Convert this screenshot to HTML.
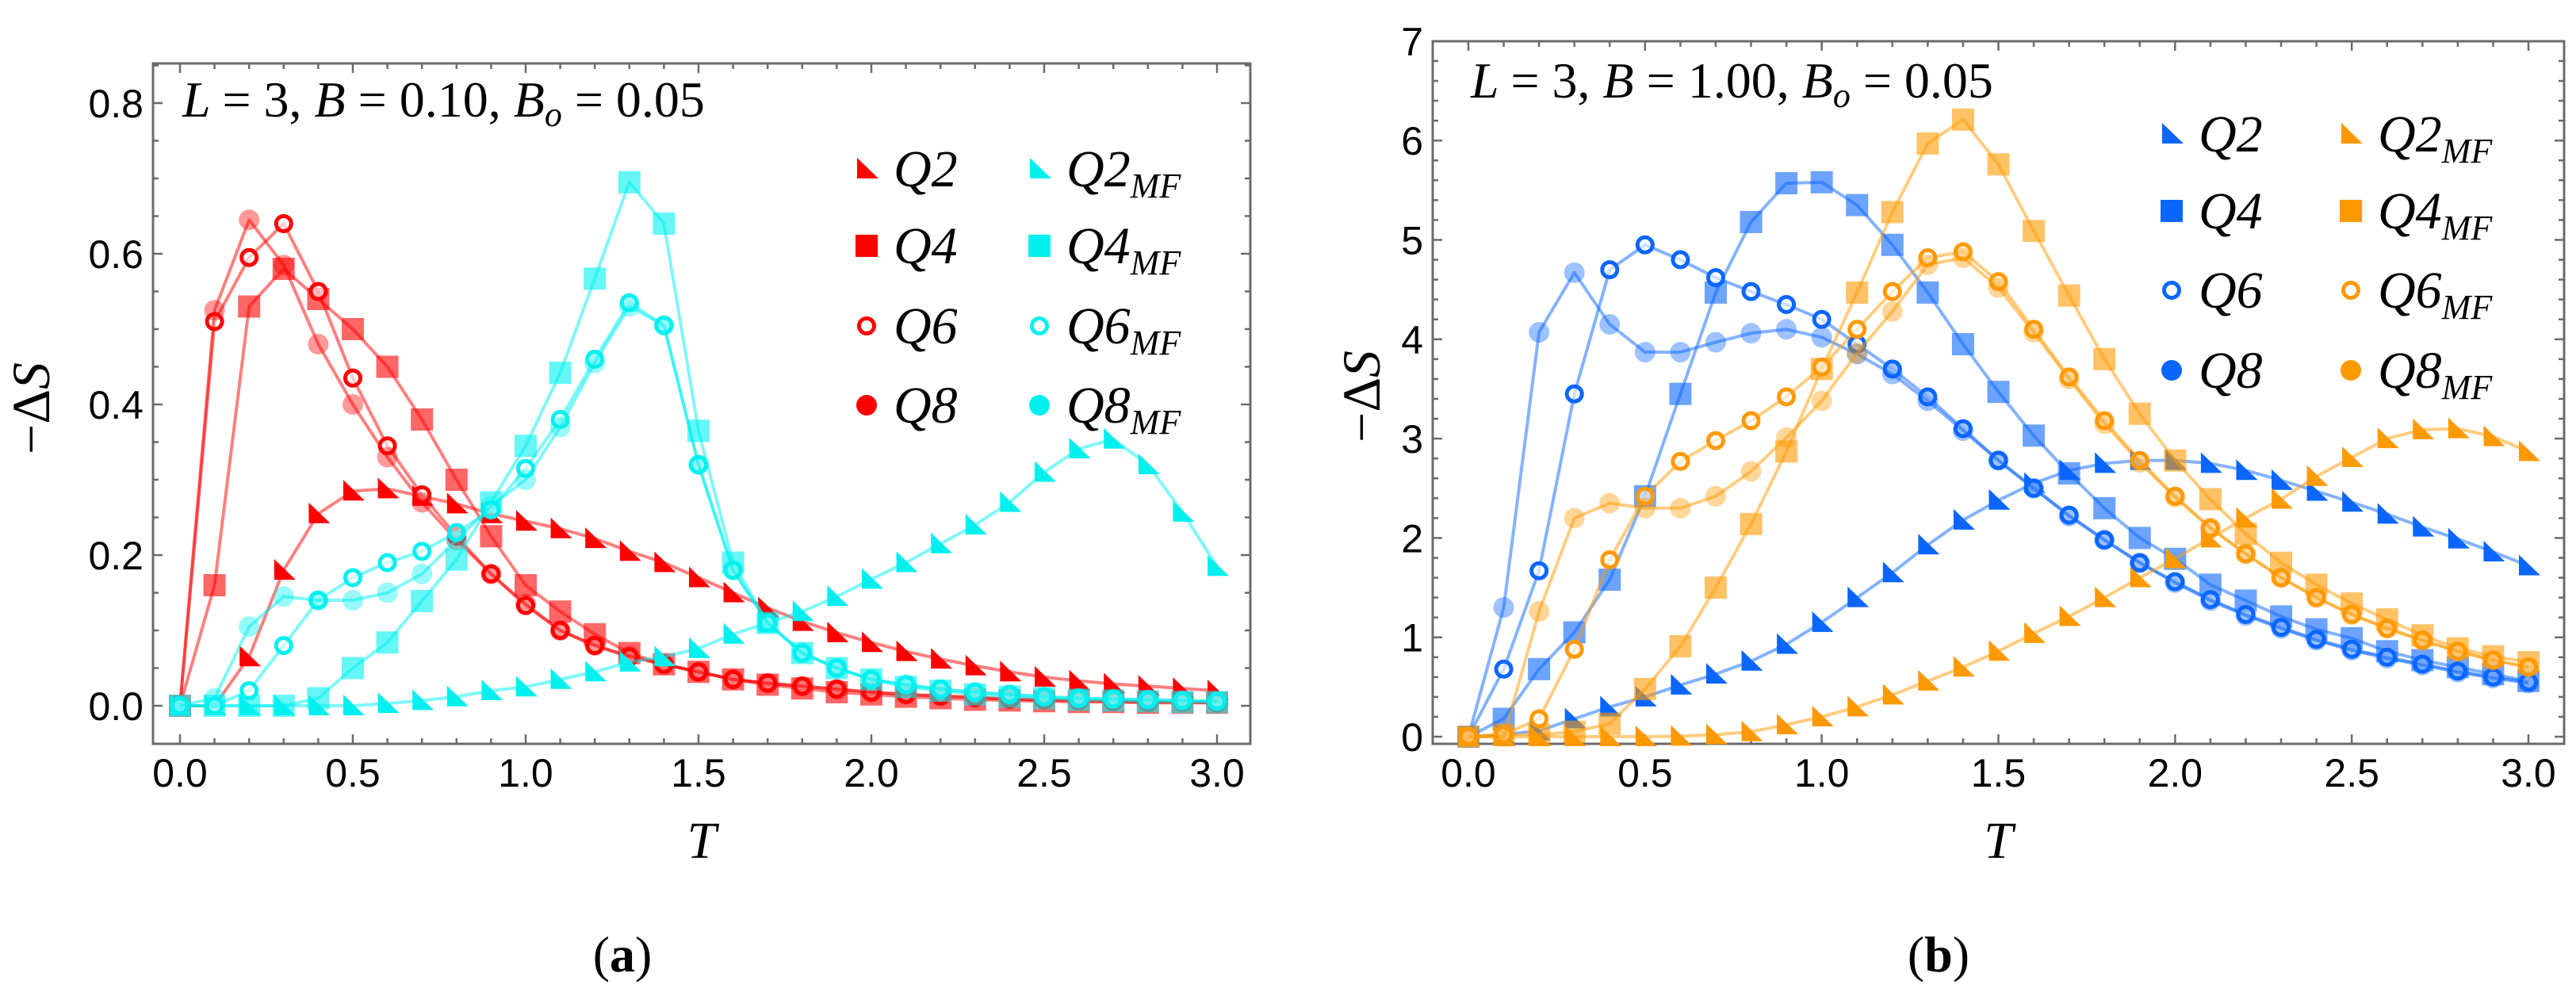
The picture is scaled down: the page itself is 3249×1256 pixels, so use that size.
<!DOCTYPE html>
<html><head><meta charset="utf-8"><style>
body{margin:0;background:#fff;}
svg{display:block;}
</style></head><body>
<svg id="fig" width="3249" height="1256" viewBox="0 0 3249 1256" xmlns="http://www.w3.org/2000/svg" style="font-family:'Liberation Sans',sans-serif"></svg>
<script>
const T = [];
for (let i = 0; i <= 30; i++) T.push(+(i / 10).toFixed(1));
const xTicks = ["0.0","0.5","1.0","1.5","2.0","2.5","3.0"];
const yTicksA = ["0.0","0.2","0.4","0.6","0.8"];
const yTicksB = ["0","1","2","3","4","5","6","7"];
// Panel (a)
const aQ2 = [0,0,0.065,0.18,0.255,0.285,0.288,0.278,0.268,0.255,0.245,0.235,0.222,0.205,0.19,0.17,0.15,0.13,0.112,0.097,0.084,0.072,0.062,0.053,0.045,0.038,0.033,0.029,0.026,0.023,0.02];
const aQ4 = [0,0.16,0.53,0.58,0.54,0.5,0.45,0.38,0.3,0.225,0.16,0.125,0.095,0.07,0.055,0.045,0.035,0.028,0.023,0.018,0.015,0.012,0.01,0.008,0.007,0.006,0.005,0.005,0.004,0.004,0.004];
const aQ6 = [0,0.51,0.595,0.64,0.55,0.435,0.345,0.28,0.225,0.175,0.133,0.1,0.08,0.065,0.055,0.045,0.035,0.03,0.026,0.022,0.018,0.015,0.013,0.011,0.009,0.008,0.007,0.006,0.005,0.005,0.004];
const aQ8 = [0,0.525,0.645,0.585,0.48,0.4,0.33,0.27,0.22,0.175,0.135,0.1,0.08,0.066,0.055,0.045,0.035,0.03,0.026,0.022,0.018,0.015,0.013,0.011,0.009,0.008,0.007,0.006,0.005,0.005,0.004];
const aQ2MF = [0,0,0,0,0,0,0.003,0.007,0.012,0.02,0.025,0.035,0.045,0.058,0.065,0.076,0.095,0.11,0.125,0.145,0.168,0.19,0.215,0.24,0.27,0.31,0.341,0.354,0.32,0.257,0.185];
const aQ4MF = [0,0,0,0,0.01,0.05,0.084,0.139,0.194,0.27,0.345,0.442,0.567,0.695,0.64,0.365,0.19,0.11,0.07,0.05,0.035,0.025,0.02,0.015,0.012,0.01,0.008,0.007,0.006,0.005,0.005];
const aQ6MF = [0,0,0.02,0.08,0.14,0.17,0.19,0.205,0.23,0.26,0.315,0.38,0.46,0.535,0.505,0.32,0.18,0.11,0.07,0.05,0.035,0.028,0.022,0.018,0.015,0.012,0.01,0.009,0.008,0.007,0.006];
const aQ8MF = [0,0.01,0.105,0.145,0.14,0.14,0.15,0.175,0.22,0.265,0.3,0.37,0.455,0.53,0.505,0.32,0.18,0.11,0.07,0.05,0.035,0.028,0.022,0.018,0.015,0.012,0.01,0.009,0.008,0.007,0.006];
// Panel (b)
const bQ2 = [0,0.02,0.06,0.18,0.3,0.4,0.52,0.63,0.76,0.93,1.15,1.4,1.65,1.93,2.18,2.38,2.55,2.68,2.75,2.78,2.78,2.75,2.68,2.58,2.47,2.36,2.24,2.11,1.99,1.86,1.72];
const bQ4 = [0,0.18,0.68,1.05,1.58,2.42,3.45,4.47,5.18,5.57,5.58,5.35,4.95,4.47,3.95,3.47,3.03,2.65,2.3,2.0,1.79,1.53,1.37,1.21,1.08,0.99,0.86,0.77,0.7,0.63,0.56];
const bQ6 = [0,0.68,1.67,3.45,4.7,4.95,4.8,4.62,4.48,4.35,4.2,3.95,3.7,3.42,3.1,2.78,2.5,2.23,1.98,1.75,1.56,1.38,1.23,1.1,0.98,0.88,0.8,0.73,0.66,0.6,0.55];
const bQ8 = [0,1.3,4.07,4.67,4.15,3.87,3.87,3.97,4.06,4.1,4.02,3.85,3.65,3.38,3.08,2.78,2.5,2.22,1.98,1.75,1.55,1.37,1.22,1.09,0.97,0.87,0.79,0.72,0.65,0.59,0.54];
const bQ2MF = [0,0,0,0,0,0,0.005,0.02,0.05,0.12,0.2,0.3,0.42,0.56,0.7,0.86,1.04,1.21,1.4,1.6,1.79,2.0,2.2,2.39,2.62,2.81,3.0,3.09,3.1,3.02,2.87];
const bQ4MF = [0,0.02,0.02,0.05,0.13,0.48,0.91,1.5,2.14,2.87,3.7,4.47,5.28,5.97,6.21,5.76,5.09,4.44,3.8,3.25,2.78,2.39,2.04,1.75,1.53,1.34,1.18,1.02,0.89,0.81,0.75];
const bQ6MF = [0,0.02,0.18,0.88,1.78,2.42,2.77,2.98,3.18,3.42,3.72,4.1,4.48,4.82,4.88,4.58,4.1,3.62,3.18,2.78,2.42,2.1,1.84,1.6,1.4,1.23,1.09,0.97,0.86,0.77,0.7];
const bQ8MF = [0,0,1.26,2.2,2.35,2.3,2.3,2.42,2.67,3.01,3.38,3.86,4.28,4.75,4.82,4.52,4.07,3.6,3.15,2.76,2.41,2.1,1.84,1.6,1.4,1.23,1.09,0.97,0.86,0.77,0.7];

const NS = "http://www.w3.org/2000/svg";
const svg = document.getElementById("fig");
const SERIF_IT = "font-family:'Liberation Serif',serif;font-style:italic";
function mk(tag, attrs, parent) {
  const e = document.createElementNS(NS, tag);
  for (const k in attrs) e.setAttribute(k, attrs[k]);
  (parent || svg).appendChild(e);
  return e;
}

function marker(g, type, cx, cy, color, op) {
  let e;
  if (type === "tri") {
    e = mk("path", {d:`M${cx-12},${cy-14} L${cx-12},${cy+12} L${cx+15},${cy+12} Z`, fill:color, "fill-opacity":op}, g);
  } else if (type === "sq") {
    e = mk("rect", {x:cx-14, y:cy-14, width:28, height:28, fill:color, "fill-opacity":op}, g);
  } else if (type === "ring") {
    e = mk("circle", {cx:cx, cy:cy, r:9.5, fill:"#fff", "fill-opacity":0.6, stroke:color, "stroke-width":5, "stroke-opacity":op}, g);
  } else {
    e = mk("circle", {cx:cx, cy:cy, r:13, fill:color, "fill-opacity":op}, g);
  }
  return e;
}

function panel(cfg) {
  const g = mk("g", {});
  
  
  const X = t => cfg.x0 + (t / 3) * (cfg.x3 - cfg.x0);
  const Y = v => cfg.y0 - v * cfg.ppu;
  const fr = mk("rect", {x:cfg.L, y:cfg.Tp, width:cfg.R-cfg.L, height:cfg.B-cfg.Tp, fill:"none", stroke:"#6b6b6b", "stroke-width":3}, g);
  
  
  for (let i = 0; i <= 30; i++) {
    const x = X(i / 10), len = i % 5 === 0 ? 12 : 7;
    mk("line", {x1:x, x2:x, y1:cfg.B, y2:cfg.B-len, stroke:"#6b6b6b", "stroke-width":2.5}, g);
    mk("line", {x1:x, x2:x, y1:cfg.Tp, y2:cfg.Tp+len, stroke:"#6b6b6b", "stroke-width":2.5}, g);
  }
  xTicks.forEach((s, i) => {
    const t = mk("text", {x:X(i*0.5), y:cfg.B+54, "font-size":50, "text-anchor":"middle"}, g);
    t.textContent = s;
    
    
  });
  for (let v = cfg.yMinorStart; v <= cfg.yMax + 1e-9; v += cfg.minor) {
    const idx = Math.round(v / cfg.minor);
    const major = idx % cfg.perMajor === 0;
    const y = Y(v), len = major ? 12 : 7;
    if (y < cfg.Tp - 1 || y > cfg.B + 1) continue;
    mk("line", {x1:cfg.L, x2:cfg.L+len, y1:y, y2:y, stroke:"#6b6b6b", "stroke-width":2.5}, g);
    mk("line", {x1:cfg.R, x2:cfg.R-len, y1:y, y2:y, stroke:"#6b6b6b", "stroke-width":2.5}, g);
  }
  cfg.yLabels.forEach((s, i) => {
    const t = mk("text", {x:cfg.L-12, y:Y(i*cfg.majorStep)+18, "font-size":50, "text-anchor":"end"}, g);
    t.textContent = s;
    
    
  });
  cfg.series.forEach(s => {
    const sg = mk("g", {}, g);
    
    
    const pts = s.data.map((v, i) => X(T[i]) + "," + Y(v)).join(" ");
    mk("polyline", {points:pts, fill:"none", stroke:s.color, "stroke-opacity":0.5, "stroke-width":4, "stroke-linejoin":"round"}, sg);
    s.data.forEach((v, i) => {
      const m = marker(sg, s.type, X(T[i]), Y(v), s.color, s.op);
      
      
    });
  });
  const an = mk("text", {x:cfg.annX, y:cfg.annY, "font-size":64, style:SERIF_IT}, g);
  an.innerHTML = cfg.ann;
  
  
  const lg = mk("g", {}, g);
  
  
  cfg.series.forEach((s, i) => {
    const col = Math.floor(i / 4), row = i % 4;
    const mx = cfg.legX[col], my = cfg.legY[row];
    const eg = mk("g", {}, lg);
    
    
    marker(eg, s.type, mx, my, s.color, 1);
    const tx = mk("text", {x:mx+34, y:my+22, "font-size":66, style:SERIF_IT}, eg);
    tx.innerHTML = s.label;
  });
  const xt = mk("text", {x:(cfg.L+cfg.R)/2, y:1082, "font-size":66, style:SERIF_IT, "text-anchor":"middle"}, g);
  xt.textContent = "T";
  
  
  const yt = mk("text", {x:0, y:0, "font-size":68, "text-anchor":"middle", transform:`translate(${cfg.ytX},${cfg.ytY}) rotate(-90)`, style:"font-family:'Liberation Serif',serif"}, g);
  yt.innerHTML = '−Δ<tspan font-style="italic">S</tspan>';
  
  
  const cap = mk("text", {x:cfg.capX, y:1225, "font-size":64, "text-anchor":"middle", style:"font-family:'Liberation Serif',serif"}, g);
  cap.innerHTML = '(<tspan font-weight="bold">' + cfg.capL + '</tspan>)';
  
  
}

const sub = '<tspan font-size="44" dy="14">MF</tspan>';
const mkSeries = (d, c1, c2) => [
  {name:"series-q2", label:"Q2", data:d[0], type:"tri", color:c1, op:1},
  {name:"series-q4", label:"Q4", data:d[1], type:"sq", color:c1, op:0.6},
  {name:"series-q6", label:"Q6", data:d[2], type:"ring", color:c1, op:1},
  {name:"series-q8", label:"Q8", data:d[3], type:"dot", color:c1, op:0.4},
  {name:"series-q2-mf", label:"Q2"+sub, data:d[4], type:"tri", color:c2, op:1},
  {name:"series-q4-mf", label:"Q4"+sub, data:d[5], type:"sq", color:c2, op:0.6},
  {name:"series-q6-mf", label:"Q6"+sub, data:d[6], type:"ring", color:c2, op:1},
  {name:"series-q8-mf", label:"Q8"+sub, data:d[7], type:"dot", color:c2, op:0.4}
];
const annA = 'L <tspan font-style="normal">=</tspan> <tspan font-style="normal">3,</tspan> B <tspan font-style="normal">=</tspan> <tspan font-style="normal">0.10,</tspan> B<tspan font-size="44" dy="12">o</tspan><tspan dy="-12" font-style="normal"> = 0.05</tspan>';
const annB = 'L <tspan font-style="normal">=</tspan> <tspan font-style="normal">3,</tspan> B <tspan font-style="normal">=</tspan> <tspan font-style="normal">1.00,</tspan> B<tspan font-size="44" dy="12">o</tspan><tspan dy="-12" font-style="normal"> = 0.05</tspan>';

panel({name:"panel-a", L:193, R:1577, Tp:80, B:938, x0:227, x3:1535, y0:890, ppu:950,
  minor:0.05, perMajor:4, yMinorStart:0, yMax:0.85, majorStep:0.2, yLabels:yTicksA,
  series:mkSeries([aQ2,aQ4,aQ6,aQ8,aQ2MF,aQ4MF,aQ6MF,aQ8MF], "#ff0000", "#00f0f0"),
  ann:annA, annX:230, annY:147, legX:[1093,1311], legY:[213,310,411,511], ytX:62, ytY:515, capX:785, capL:"a"});
panel({name:"panel-b", L:1807, R:3234, Tp:52, B:938, x0:1852, x3:3189, y0:929, ppu:125.3,
  minor:0.2, perMajor:5, yMinorStart:0, yMax:7, majorStep:1, yLabels:yTicksB,
  series:mkSeries([bQ2,bQ4,bQ6,bQ8,bQ2MF,bQ4MF,bQ6MF,bQ8MF], "#0a66ff", "#ff9900"),
  ann:annB, annX:1855, annY:123, legX:[2739,2965], legY:[169,266,366,467], ytX:1740, ytY:500, capX:2445, capL:"b"});
</script>
</body></html>
